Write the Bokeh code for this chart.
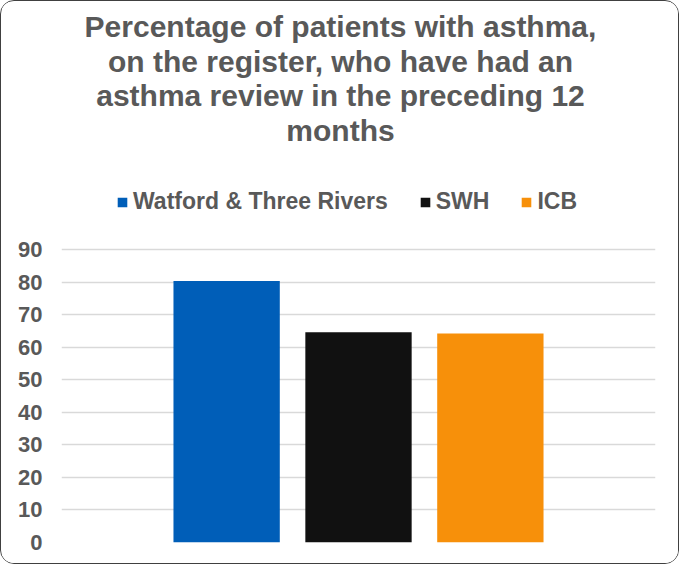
from bokeh.plotting import figure
from bokeh.models import Range1d, FactorRange, Legend, LegendItem, Label, ColumnDataSource
from bokeh.transform import dodge
from bokeh.embed import file_html
from bokeh.resources import INLINE

title_lines = ["Percentage of patients with asthma,",
               "on the register, who have had an",
               "asthma review in the preceding 12",
               "months"]
series = ["Watford & Three Rivers", "SWH", "ICB"]
values = [80.3, 64.6, 64.2]
colors = ["#005EB8", "#111111", "#F7900A"]
offsets = [-0.222, 0.0, 0.222]
yticks = list(range(0, 100, 10))

TXT = "#595959"
FONT = "Liberation Sans"

# frame spans the full height; the chart area (0-90) occupies its lower part,
# title and legend sit in the upper part
p = figure(width=679, height=564, x_range=FactorRange(factors=[""]),
           y_range=Range1d(0, 166.2), output_backend="svg", toolbar_location=None,
           title=None, min_border_left=60, min_border_right=25,
           min_border_bottom=23, min_border_top=0)
p.styles = {"border": "1px solid #404040", "border-radius": "14px",
            "box-sizing": "border-box", "overflow": "hidden"}
p.outline_line_color = None
p.xaxis.visible = False
p.xgrid.visible = False
p.ygrid.grid_line_color = "#D9D9D9"
p.ygrid.grid_line_width = 1.5
p.yaxis.ticker = yticks
p.yaxis.axis_line_color = None
p.yaxis.major_tick_line_color = None
p.yaxis.minor_tick_line_color = None
p.yaxis.major_tick_out = 0
p.yaxis.major_label_text_font = FONT
p.yaxis.major_label_text_font_style = "bold"
p.yaxis.major_label_text_font_size = "22px"
p.yaxis.major_label_text_color = TXT
p.yaxis.major_label_standoff = 19

items = []
for s, v, c, o in zip(series, values, colors, offsets):
    src = ColumnDataSource(dict(x=[""], top=[v]))
    r = p.vbar(x=dodge("x", o, range=p.x_range), top="top", width=0.179, source=src,
               fill_color=c, line_color=None)
    items.append(LegendItem(label=s, renderers=[r]))

legend = Legend(items=items, orientation="horizontal", location=(55, 327),
                label_text_font=FONT, label_text_font_style="bold",
                label_text_font_size="23px", label_text_color=TXT,
                glyph_width=12, glyph_height=12, spacing=31, label_standoff=5,
                border_line_color=None, background_fill_alpha=0,
                margin=0, padding=0)
p.add_layout(legend, "center")

title_y = [516, 481, 447, 412]
for line, ty in zip(title_lines, title_y):
    p.add_layout(Label(x=279, y=ty, x_units="screen", y_units="screen", text=line,
                       text_align="center", text_baseline="middle", text_font=FONT,
                       text_font_style="bold", text_font_size="30px", text_color=TXT))

open("out.html", "w").write(file_html(p, INLINE))
